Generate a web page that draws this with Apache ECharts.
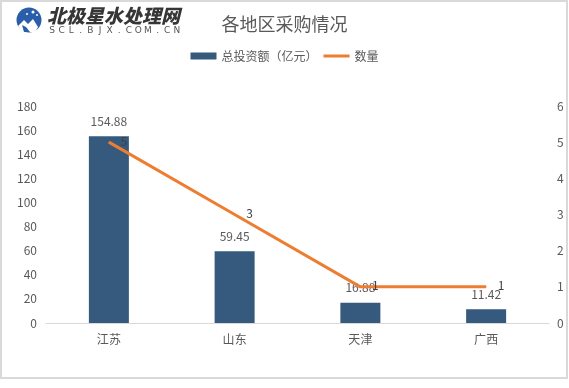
<!DOCTYPE html>
<html><head><meta charset="utf-8">
<script src="https://cdn.jsdelivr.net/npm/echarts@6/dist/echarts.min.js"></script>
<style>html,body{margin:0;padding:0;background:#fff}#c{width:569px;height:388px}</style>
</head><body><div id="c"></div>
<script>
var categories = ['江苏', '山东', '天津', '广西'];
var investment = [154.88, 59.45, 16.88, 11.42];
var counts = [5, 3, 1, 1];
var leftTicks = {min: 0, max: 180, interval: 20};
var rightTicks = {min: 0, max: 6, interval: 1};
var logoSub = 'SCL.BJX.COM.CN';

var FONT = '"Noto Sans CJK SC", "Noto Sans", sans-serif';
var chart = echarts.init(document.getElementById('c'));

var graphics = [
  {type: 'rect', shape: {x: 1, y: 1, width: 566, height: 377}, style: {fill: null, stroke: '#d9d9d9', lineWidth: 2}, z: 100},
  {type: 'circle', shape: {cx: 29, cy: 20, r: 12.5}, style: {fill: '#2a5ea8'}},
  {type: 'polygon', shape: {points: [[18,26],[24,20],[28,24],[33,19],[38,27],[35,32],[22,32]]}, style: {fill: '#ffffff'}},
  {type: 'polygon', shape: {points: [[22,25],[26,27],[30,32],[24,32]]}, style: {fill: '#2a5ea8'}},
  {type: 'circle', shape: {cx: 33, cy: 12, r: 1.5}, style: {fill: '#ffffff'}},
  {type: 'circle', shape: {cx: 37, cy: 15, r: 1}, style: {fill: '#ffffff'}},
  {type: 'circle', shape: {cx: 27, cy: 14, r: 1}, style: {fill: '#ffffff'}},
  {type: 'text', left: 47, top: 6,
   style: {text: '北极星水处理网', font: 'italic 900 19px "Noto Sans CJK SC"', fill: '#363636'}}
];
for (var i = 0; i < logoSub.length; i++) {
  graphics.push({type: 'text', x: 52 + i * 9.6, y: 31,
    style: {text: logoSub[i], font: '9px "DejaVu Sans"', fill: '#555555', align: 'center', verticalAlign: 'middle'}});
}

chart.setOption({
  animation: false,
  backgroundColor: '#fff',
  textStyle: {fontFamily: FONT},
  title: {
    text: '各地区采购情况', left: 'center', top: 10,
    textStyle: {fontSize: 18, fontWeight: 'normal', color: '#595959', fontFamily: FONT}
  },
  legend: {
    top: 45, left: 'center', itemWidth: 26, itemHeight: 7, itemGap: 6,
    textStyle: {fontSize: 12, color: '#595959', fontFamily: FONT},
    data: [
      {name: '总投资额（亿元）', icon: 'rect'},
      {name: '数量', icon: 'path://M0,0 L26,0 L26,3 L0,3 Z'}
    ]
  },
  grid: {left: 46, right: 20, top: 106, bottom: 65, containLabel: false},
  xAxis: {
    type: 'category', data: categories,
    axisLine: {lineStyle: {color: '#d9d9d9', width: 1}},
    axisTick: {show: false},
    axisLabel: {color: '#595959', fontSize: 12, margin: 10, fontFamily: FONT}
  },
  yAxis: [
    {type: 'value', min: leftTicks.min, max: leftTicks.max, interval: leftTicks.interval,
     splitLine: {show: false}, axisLine: {show: false}, axisTick: {show: false},
     axisLabel: {color: '#595959', fontSize: 12, margin: 9, fontFamily: FONT}},
    {type: 'value', min: rightTicks.min, max: rightTicks.max, interval: rightTicks.interval,
     splitLine: {show: false}, axisLine: {show: false}, axisTick: {show: false},
     axisLabel: {color: '#595959', fontSize: 12, margin: 8, fontFamily: FONT}}
  ],
  series: [
    {name: '总投资额（亿元）', type: 'bar', data: investment, barWidth: 40,
     itemStyle: {color: '#355a7d'},
     label: {show: true, position: 'top', distance: 9, color: '#595959', fontSize: 12, fontFamily: FONT}},
    {name: '数量', type: 'line', yAxisIndex: 1, data: counts,
     symbol: 'circle', symbolSize: 1, showSymbol: true,
     itemStyle: {color: '#ed7d31'},
     lineStyle: {color: '#ed7d31', width: 3},
     label: {show: true, position: 'right', distance: 11, offset: [0, -1], color: '#404040', fontSize: 12, fontFamily: FONT}}
  ],
  graphic: graphics
});
</script></body></html>
